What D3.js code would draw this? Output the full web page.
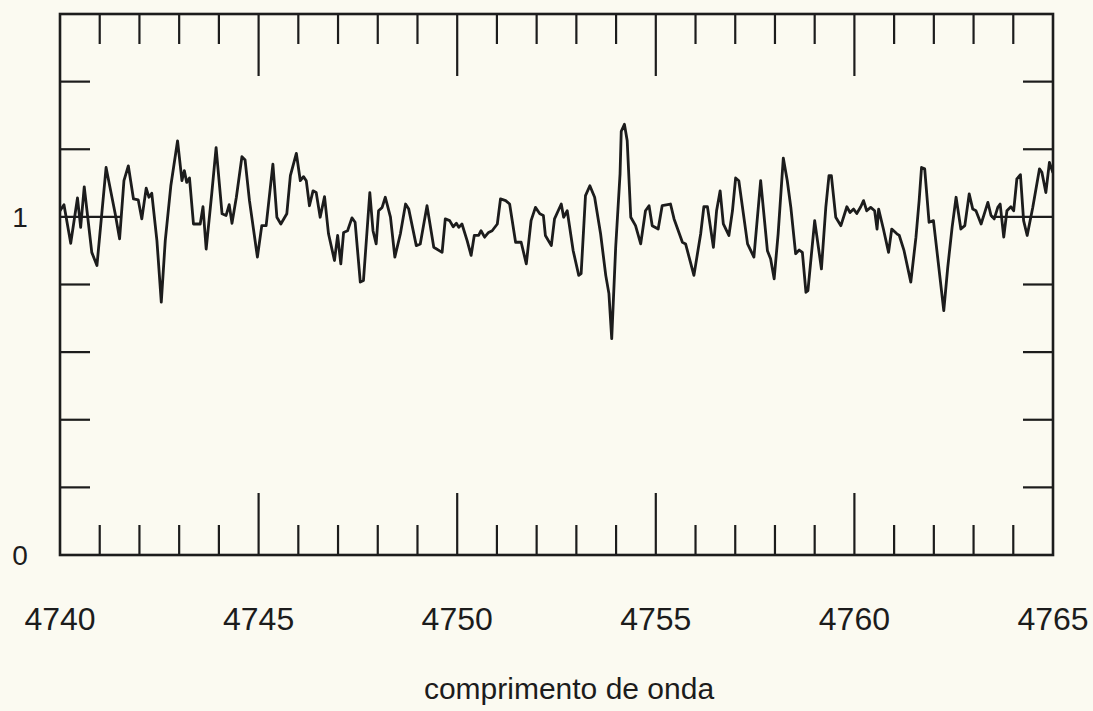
<!DOCTYPE html>
<html>
<head>
<meta charset="utf-8">
<script src="https://cdn.jsdelivr.net/npm/d3@7"></script>
<style>
  html, body { margin: 0; padding: 0; background: #fbfaf1; }
  svg { display: block; }
  text { font-family: "Liberation Sans", Arial, Helvetica, sans-serif; fill: #1c1c1c; }
</style>
</head>
<body>
<div class="svgcontainer"></div>
<script>
// spectrum (wavelength in Angstrom, normalised flux)
const wavelength = [
  4740.00, 4740.10, 4740.27, 4740.44, 4740.52, 4740.61, 4740.80, 4740.93, 4741.16, 4741.39,
  4741.50, 4741.61, 4741.72, 4741.85, 4741.97, 4742.06, 4742.17, 4742.24, 4742.31, 4742.44,
  4742.55, 4742.65, 4742.79, 4742.96, 4743.07, 4743.13, 4743.19, 4743.26, 4743.36, 4743.53,
  4743.60, 4743.68, 4743.82, 4743.93, 4744.08, 4744.18, 4744.26, 4744.33, 4744.44, 4744.58,
  4744.66, 4744.77, 4744.97, 4745.08, 4745.19, 4745.36, 4745.46, 4745.56, 4745.71, 4745.80,
  4745.95, 4746.05, 4746.13, 4746.20, 4746.28, 4746.37, 4746.45, 4746.55, 4746.66, 4746.76,
  4746.91, 4746.99, 4747.07, 4747.14, 4747.24, 4747.35, 4747.43, 4747.56, 4747.64, 4747.80,
  4747.88, 4747.96, 4748.02, 4748.11, 4748.19, 4748.32, 4748.43, 4748.57, 4748.70, 4748.78,
  4748.97, 4749.07, 4749.24, 4749.41, 4749.62, 4749.70, 4749.81, 4749.90, 4749.98, 4750.04,
  4750.12, 4750.25, 4750.35, 4750.43, 4750.54, 4750.60, 4750.69, 4750.79, 4750.88, 4751.01,
  4751.09, 4751.22, 4751.32, 4751.47, 4751.61, 4751.74, 4751.86, 4751.97, 4752.08, 4752.17,
  4752.22, 4752.37, 4752.45, 4752.62, 4752.68, 4752.77, 4752.92, 4753.06, 4753.12, 4753.23,
  4753.34, 4753.46, 4753.61, 4753.74, 4753.82, 4753.89, 4753.99, 4754.10, 4754.13, 4754.21,
  4754.28, 4754.37, 4754.49, 4754.62, 4754.74, 4754.83, 4754.91, 4755.06, 4755.16, 4755.37,
  4755.46, 4755.67, 4755.75, 4755.96, 4756.13, 4756.21, 4756.30, 4756.45, 4756.53, 4756.62,
  4756.70, 4756.84, 4756.93, 4757.01, 4757.09, 4757.31, 4757.47, 4757.64, 4757.81, 4757.89,
  4757.98, 4758.08, 4758.21, 4758.31, 4758.40, 4758.52, 4758.61, 4758.69, 4758.78, 4758.83,
  4759.00, 4759.17, 4759.28, 4759.36, 4759.42, 4759.53, 4759.66, 4759.81, 4759.89, 4759.98,
  4760.06, 4760.16, 4760.23, 4760.31, 4760.41, 4760.51, 4760.57, 4760.61, 4760.73, 4760.86,
  4760.94, 4761.07, 4761.13, 4761.25, 4761.42, 4761.55, 4761.63, 4761.69, 4761.77, 4761.88,
  4761.99, 4762.25, 4762.35, 4762.46, 4762.56, 4762.68, 4762.78, 4762.89, 4762.98, 4763.06,
  4763.19, 4763.27, 4763.36, 4763.44, 4763.52, 4763.61, 4763.67, 4763.76, 4763.84, 4763.94,
  4764.01, 4764.09, 4764.18, 4764.26, 4764.35, 4764.49, 4764.66, 4764.72, 4764.82, 4764.91,
  4765.00
];
const flux = [
  1.018, 1.036, 0.922, 1.056, 0.969, 1.089, 0.895, 0.856, 1.146, 1.009,
  0.935, 1.107, 1.151, 1.053, 1.050, 0.994, 1.085, 1.058, 1.070, 0.930,
  0.748, 0.930, 1.092, 1.225, 1.107, 1.137, 1.102, 1.115, 0.979, 0.979,
  1.030, 0.905, 1.068, 1.205, 1.009, 1.004, 1.036, 0.981, 1.058, 1.178,
  1.168, 1.048, 0.881, 0.974, 0.974, 1.156, 0.999, 0.979, 1.009, 1.122,
  1.188, 1.107, 1.119, 1.107, 1.033, 1.077, 1.072, 0.999, 1.060, 0.950,
  0.871, 0.945, 0.861, 0.954, 0.959, 0.997, 0.984, 0.807, 0.812, 1.072,
  0.959, 0.920, 1.018, 1.028, 1.058, 0.999, 0.881, 0.950, 1.038, 1.023,
  0.915, 0.920, 1.033, 0.910, 0.895, 0.994, 0.989, 0.971, 0.981, 0.969,
  0.979, 0.930, 0.886, 0.945, 0.945, 0.959, 0.940, 0.954, 0.959, 0.979,
  1.053, 1.048, 1.038, 0.925, 0.925, 0.861, 0.989, 1.028, 1.009, 1.004,
  0.945, 0.915, 0.994, 1.038, 0.999, 1.018, 0.900, 0.827, 0.832, 1.063,
  1.092, 1.058, 0.950, 0.827, 0.773, 0.640, 0.910, 1.127, 1.253, 1.274,
  1.225, 0.999, 0.974, 0.920, 1.018, 1.033, 0.974, 0.964, 1.033, 1.038,
  0.994, 0.925, 0.920, 0.827, 0.950, 1.030, 1.030, 0.910, 1.018, 1.077,
  0.979, 0.945, 1.018, 1.115, 1.107, 0.920, 0.881, 1.107, 0.900, 0.876,
  0.817, 0.950, 1.174, 1.107, 1.028, 0.891, 0.902, 0.895, 0.777, 0.782,
  0.989, 0.846, 1.028, 1.122, 1.122, 0.999, 0.974, 1.030, 1.013, 1.023,
  1.010, 1.030, 1.048, 1.018, 1.028, 1.018, 0.964, 1.023, 0.964, 0.895,
  0.964, 0.950, 0.945, 0.900, 0.807, 0.940, 1.048, 1.146, 1.142, 0.984,
  0.989, 0.723, 0.851, 0.969, 1.058, 0.964, 0.974, 1.068, 1.023, 1.018,
  0.979, 1.009, 1.043, 1.004, 0.994, 1.028, 1.038, 0.940, 1.018, 1.030,
  1.018, 1.112, 1.125, 0.989, 0.945, 1.028, 1.142, 1.132, 1.072, 1.161,
  1.130
];

// axis ticks and labels
const xMinorTicks = d3.range(4741, 4765).filter(v => v % 5 !== 0);
const xMajorTicks = [4745, 4750, 4755, 4760];
const xLabels = [4740, 4745, 4750, 4755, 4760, 4765];
const yMinorTicks = [0.2, 0.4, 0.6, 0.8, 1.2, 1.4];
const yMajorTicks = [1.0];
const yLabels = [0, 1];
const xTitle = "comprimento de onda";

function drawSpectrum() {
    const W = 1093, H = 711;
    const margin = { top: 14, right: 40, bottom: 156, left: 60 };
    const plotW = W - margin.left - margin.right;
    const plotH = H - margin.top - margin.bottom;

    const x = d3.scaleLinear().domain([4740, 4765]).range([0, plotW]);
    const y = d3.scaleLinear().domain([0, 1.6]).range([plotH, 0]);

    const ink = "#1c1c1c";
    const minorLen = 30, majorLen = 62;

    const svg = d3.select('.svgcontainer')
        .append('svg')
        .attr('width', W)
        .attr('height', H);

    const g = svg.append('g')
        .attr('transform', `translate(${margin.left}, ${margin.top})`);

    g.append('clipPath').attr('id', 'plotclip')
        .append('rect').attr('width', plotW).attr('height', plotH);

    // x ticks, bottom and top, pointing inward
    const xTicks = xMinorTicks.map(v => ({ v, len: minorLen }))
        .concat(xMajorTicks.map(v => ({ v, len: majorLen })));

    g.selectAll('.xtick-b')
        .data(xTicks)
        .enter()
        .append('line')
        .attr('x1', d => x(d.v)).attr('x2', d => x(d.v))
        .attr('y1', plotH).attr('y2', d => plotH - d.len)
        .attr('stroke', ink).attr('stroke-width', 2.2);

    g.selectAll('.xtick-t')
        .data(xTicks)
        .enter()
        .append('line')
        .attr('x1', d => x(d.v)).attr('x2', d => x(d.v))
        .attr('y1', 0).attr('y2', d => d.len)
        .attr('stroke', ink).attr('stroke-width', 2.2);

    // y ticks, left and right
    const yTicks = yMinorTicks.map(v => ({ v, len: minorLen }))
        .concat(yMajorTicks.map(v => ({ v, len: majorLen })));

    g.selectAll('.ytick-l')
        .data(yTicks)
        .enter()
        .append('line')
        .attr('x1', 0).attr('x2', d => d.len)
        .attr('y1', d => y(d.v)).attr('y2', d => y(d.v))
        .attr('stroke', ink).attr('stroke-width', 2.2);

    g.selectAll('.ytick-r')
        .data(yTicks)
        .enter()
        .append('line')
        .attr('x1', plotW).attr('x2', d => plotW - d.len)
        .attr('y1', d => y(d.v)).attr('y2', d => y(d.v))
        .attr('stroke', ink).attr('stroke-width', 2.2);

    // the spectrum
    const pts = wavelength.map((w, i) => [w, flux[i]]);
    const line = d3.line()
        .x(d => x(d[0]))
        .y(d => y(d[1]));

    g.append('path')
        .datum(pts)
        .attr('clip-path', 'url(#plotclip)')
        .attr('fill', 'none')
        .attr('stroke', ink)
        .attr('stroke-width', 2.8)
        .attr('stroke-linejoin', 'round')
        .attr('d', line);

    // frame
    g.append('rect')
        .attr('width', plotW).attr('height', plotH)
        .attr('fill', 'none')
        .attr('stroke', ink).attr('stroke-width', 2.6);

    // labels
    g.selectAll('.xlabel')
        .data(xLabels)
        .enter()
        .append('text')
        .attr('x', d => x(d))
        .attr('y', plotH + 75)
        .attr('text-anchor', 'middle')
        .style('font-size', '32px')
        .text(d => d);

    g.selectAll('.ylabel')
        .data(yLabels)
        .enter()
        .append('text')
        .attr('x', -40)
        .attr('y', d => y(d) + 10)
        .attr('text-anchor', 'middle')
        .style('font-size', '28px')
        .text(d => d);

    svg.append('text')
        .attr('x', 569)
        .attr('y', 699)
        .attr('text-anchor', 'middle')
        .style('font-size', '30px')
        .text(xTitle);
}

drawSpectrum();
</script>
</body>
</html>
